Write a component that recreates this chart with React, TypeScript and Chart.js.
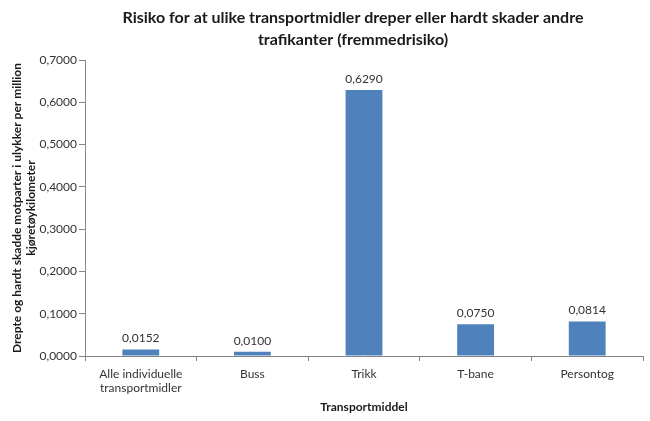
import React, { useEffect, useRef } from "react";
import { Chart, registerables } from "chart.js";

Chart.register(...registerables);

const categories: (string | string[])[] = [
  ["Alle individuelle", "transportmidler"],
  "Buss",
  "Trikk",
  "T-bane",
  "Persontog",
];
const values = [0.0152, 0.01, 0.629, 0.075, 0.0814];
const titleLines = [
  "Risiko for at ulike transportmidler dreper eller hardt skader andre",
  "trafikanter (fremmedrisiko)",
];
const yTitle = [
  "Drepte og hardt skadde motparter i ulykker per million",
  "kjøretøykilometer",
];
const xTitle = "Transportmiddel";

const FONT = "Lato, 'Open Sans', sans-serif";
const fmt = (v: number) => v.toFixed(4).replace(".", ",");

export default function App() {
  const ref = useRef<HTMLCanvasElement>(null);
  useEffect(() => {
    document.body.style.margin = "0";
    const titlePlugin = {
      id: "customTitle",
      afterDraw(chart: any) {
        const ctx = chart.ctx;
        ctx.save();
        ctx.font = `bold 16px ${FONT}`;
        ctx.fillStyle = "#1a1a1a";
        ctx.textAlign = "center";
        ctx.textBaseline = "middle";
        titleLines.forEach((t, i) => ctx.fillText(t, 353, 18 + i * 22));
        ctx.restore();
      },
    };
    const labelPlugin = {
      id: "barLabels",
      afterDatasetsDraw(chart: any) {
        const ctx = chart.ctx;
        const meta = chart.getDatasetMeta(0);
        ctx.save();
        ctx.font = `12px ${FONT}`;
        ctx.fillStyle = "#333";
        ctx.textAlign = "center";
        ctx.textBaseline = "bottom";
        meta.data.forEach((el: any, i: number) => {
          ctx.fillText(fmt(values[i]), el.x, el.y - 5);
        });
        ctx.restore();
      },
    };
    const chart = new Chart(ref.current!, {
      type: "bar",
      data: {
        labels: categories,
        datasets: [
          {
            data: values,
            backgroundColor: "#4F81BD",
            categoryPercentage: 1,
            barPercentage: 0.33,
          },
        ],
      },
      options: {
        animation: false,
        responsive: false,
        layout: { padding: { top: 60, right: 7, left: 0, bottom: 0 } },
        plugins: { legend: { display: false }, tooltip: { enabled: false }, title: { display: false } },
        scales: {
          x: {
            grid: { drawOnChartArea: false, drawTicks: true, tickLength: 5, color: "#868686" },
            border: { color: "#868686" },
            ticks: { font: { family: FONT, size: 12 }, color: "#333", padding: 6, maxRotation: 0 },
            title: {
              display: true,
              text: xTitle,
              font: { family: FONT, size: 12, weight: "bold" },
              color: "#1a1a1a",
              padding: { bottom: 7, top: 0 },
            },
            afterFit(scale: any) {
              scale.height = 65;
            },
          },
          y: {
            min: 0,
            max: 0.7,
            grid: { drawOnChartArea: false, drawTicks: true, tickLength: 6, color: "#868686" },
            border: { color: "#868686" },
            ticks: {
              stepSize: 0.1,
              font: { family: FONT, size: 12 },
              color: "#333",
              padding: 2,
              callback: (v: any) => fmt(Number(v)),
            },
            title: {
              display: true,
              text: yTitle,
              font: { family: FONT, size: 12, weight: "bold" },
              color: "#1a1a1a",
              padding: { top: 10, bottom: 0 },
            },
            afterFit(scale: any) {
              scale.width = 85;
            },
          },
        },
      },
      plugins: [titlePlugin, labelPlugin],
    });
    return () => chart.destroy();
  }, []);
  return (
    <div style={{ width: 650, height: 421, background: "#fff" }}>
      <canvas ref={ref} width={650} height={421} />
    </div>
  );
}
